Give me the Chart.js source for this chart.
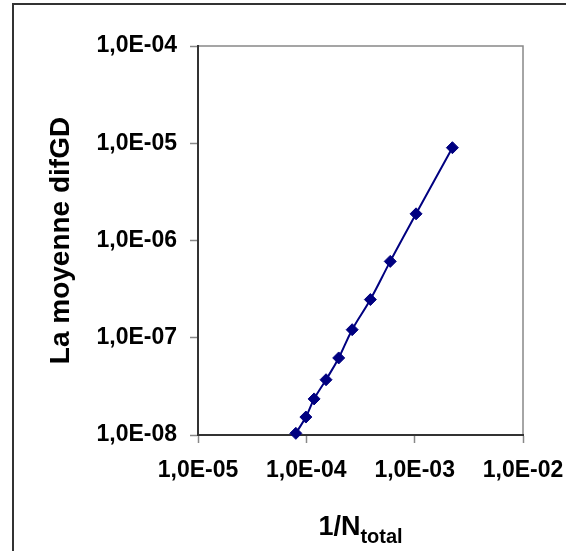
<!DOCTYPE html>
<html>
<head>
<meta charset="utf-8">
<script src="https://cdn.jsdelivr.net/npm/chart.js@4/dist/chart.umd.min.js"></script>
<style>
    body { margin: 0; background: #fff; }
    #wrap { width: 566px; height: 551px; }
</style>
</head>
<body>
<div id="wrap"><canvas id="myChart"></canvas></div>
<script>
// values
let xValues = [8.0e-5, 9.9e-5, 1.18e-4, 1.52e-4, 1.99e-4, 2.65e-4, 3.9e-4, 5.95e-4, 1.03e-3, 2.23e-3];
let yValues = [1.04e-8, 1.53e-8, 2.35e-8, 3.7e-8, 6.2e-8, 1.21e-7, 2.47e-7, 6.1e-7, 1.88e-6, 9.0e-6];

let xTicks = [1e-5, 1e-4, 1e-3, 1e-2];
let xTickLabels = ["1,0E-05", "1,0E-04", "1,0E-03", "1,0E-02"];
let yTicks = [1e-8, 1e-7, 1e-6, 1e-5, 1e-4];
let yTickLabels = ["1,0E-08", "1,0E-07", "1,0E-06", "1,0E-05", "1,0E-04"];

let yTitle = "La moyenne difGD";
let xTitleMain = "1/N";
let xTitleSub = "total";

let fontFam = "'Liberation Sans', Arial, sans-serif";

let points = [];
for (let i = 0; i < xValues.length; i++) {
    points.push({ x: xValues[i], y: yValues[i] });
}

// frame around the chart + gray plot border + x title with subscript
let decor = {
    id: "decor",
    beforeDraw(chart) {
        let ctx = chart.ctx;
        let a = chart.chartArea;
        ctx.save();
        ctx.strokeStyle = "#333";
        ctx.lineWidth = 2;
        ctx.beginPath();
        ctx.moveTo(13, chart.height);
        ctx.lineTo(13, 4);
        ctx.lineTo(chart.width, 4);
        ctx.stroke();

        ctx.strokeStyle = "#888";
        ctx.lineWidth = 1.5;
        ctx.strokeRect(a.left, a.top, a.right - a.left, a.bottom - a.top);
        ctx.restore();
    },
    afterDraw(chart) {
        let ctx = chart.ctx;
        let a = chart.chartArea;
        ctx.save();
        ctx.fillStyle = "#000";
        ctx.textBaseline = "alphabetic";
        ctx.font = "bold 27px " + fontFam;
        let w1 = ctx.measureText(xTitleMain).width;
        ctx.font = "bold 20px " + fontFam;
        let w2 = ctx.measureText(xTitleSub).width;
        let start = (a.left + a.right) / 2 - (w1 + w2) / 2;
        ctx.font = "bold 27px " + fontFam;
        ctx.fillText(xTitleMain, start, 535);
        ctx.font = "bold 20px " + fontFam;
        ctx.fillText(xTitleSub, start + w1, 543);
        ctx.restore();
    }
};

let ctx = document.getElementById("myChart").getContext("2d");

let chart = new Chart(ctx, {
    type: "scatter",
    data: {
        datasets: [{
            data: points,
            showLine: true,
            borderColor: "#000080",
            backgroundColor: "#000080",
            borderWidth: 2,
            tension: 0.4,
            pointStyle: "rectRot",
            pointRadius: 6,
            pointBorderWidth: 1,
            pointBorderColor: "#000080",
            pointBackgroundColor: "#000080",
            clip: false
        }]
    },
    options: {
        responsive: true,
        maintainAspectRatio: false,
        animation: false,
        events: [],
        layout: {
            padding: { left: 14, top: 46, right: 43, bottom: 0 }
        },
        plugins: {
            legend: { display: false },
            tooltip: { enabled: false }
        },
        scales: {
            x: {
                type: "logarithmic",
                position: "bottom",
                min: 1e-5,
                max: 1e-2,
                afterBuildTicks: s => { s.ticks = xTicks.map(v => ({ value: v })); },
                afterFit: s => { s.height = 116; s.paddingLeft = 0; s.paddingRight = 0; },
                border: { display: true, color: "#333", width: 2 },
                grid: { drawOnChartArea: false, drawTicks: true, tickLength: 8, tickColor: "#888", tickWidth: 1.5 },
                ticks: {
                    autoSkip: false,
                    maxRotation: 0,
                    padding: 14,
                    color: "#000",
                    font: { family: fontFam, size: 23, weight: "bold" },
                    callback: (v, i) => xTickLabels[i]
                }
            },
            y: {
                type: "logarithmic",
                min: 1e-8,
                max: 1e-4,
                afterBuildTicks: s => { s.ticks = yTicks.map(v => ({ value: v })); },
                afterFit: s => { s.width = 184; s.paddingTop = 0; s.paddingBottom = 0; },
                border: { display: true, color: "#333", width: 2 },
                grid: { drawOnChartArea: false, drawTicks: true, tickLength: 8, tickColor: "#888", tickWidth: 1.5 },
                title: {
                    display: true,
                    text: yTitle,
                    color: "#000",
                    padding: { top: 30, bottom: 0 },
                    font: { family: fontFam, size: 28, weight: "bold" }
                },
                ticks: {
                    autoSkip: false,
                    padding: 13,
                    color: "#000",
                    font: { family: fontFam, size: 23, weight: "bold" },
                    callback: (v, i) => yTickLabels[i]
                }
            }
        }
    },
    plugins: [decor]
});
</script>
</body>
</html>
